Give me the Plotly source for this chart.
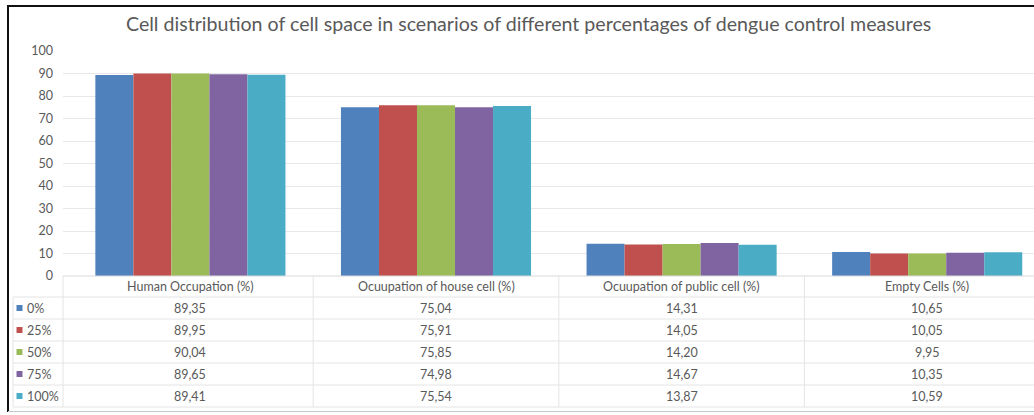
import plotly.graph_objects as go

# Chart data
categories = ["Human Occupation (%)", "Ocuupation of house cell (%)",
              "Ocuupation of public cell (%)", "Empty Cells (%)"]
scenarios = ["0%", "25%", "50%", "75%", "100%"]
values = {
    "0%":   [89.35, 75.04, 14.31, 10.65],
    "25%":  [89.95, 75.91, 14.05, 10.05],
    "50%":  [90.04, 75.85, 14.20, 9.95],
    "75%":  [89.65, 74.98, 14.67, 10.35],
    "100%": [89.41, 75.54, 13.87, 10.59],
}
colors = ["#4F81BD", "#C0504D", "#9BBB59", "#8064A2", "#4BACC6"]
title = "Cell distribution of cell space in scenarios of different percentages of dengue control measures"

W, H = 1034, 415
ML, MR, MT, MB = 63, 0, 51, 139
PW, PH = W - ML - MR, H - MT - MB
TEXT = "#595959"
LINE = "#E4E4E4"
FONT = "Lato"
TS = 12.5  # table / tick font size


def px_x(x):
    return (x - ML) / PW


def px_y(y):
    return (H - MB - y) / PH


fig = go.Figure()
for name, col in zip(scenarios, colors):
    fig.add_trace(go.Bar(
        x=list(range(len(categories))), y=values[name], name=name,
        marker=dict(color=col, line=dict(width=0)),
    ))

# category axis: 245.6 px per category, clipped at the right edge
unit = 245.6
x0 = -0.5 - 4.6 / unit
x1 = x0 + PW / unit

shapes = []
annotations = []

# data table lines
row_h = 22
header_top = 276
header_bot = 297
rows_y = [header_bot + i * row_h for i in range(len(scenarios) + 1)]
shapes.append(dict(type="line", xref="paper", yref="paper", x0=0, x1=1,
                   y0=px_y(header_top), y1=px_y(header_top), line=dict(color="#D9D9D9", width=1)))
for y in rows_y:
    shapes.append(dict(type="line", xref="paper", yref="paper", x0=px_x(13), x1=1,
                       y0=px_y(y), y1=px_y(y), line=dict(color=LINE, width=1)))
shapes.append(dict(type="line", xref="paper", yref="paper", x0=px_x(13), x1=px_x(13),
                   y0=px_y(header_bot), y1=px_y(rows_y[-1]), line=dict(color=LINE, width=1)))
shapes.append(dict(type="line", xref="paper", yref="paper", x0=0, x1=0,
                   y0=px_y(header_top), y1=px_y(rows_y[-1]), line=dict(color=LINE, width=1)))
for k in range(len(categories) - 1):
    shapes.append(dict(type="line", xref="x", yref="paper", x0=k + 0.5, x1=k + 0.5,
                       y0=px_y(header_top), y1=px_y(rows_y[-1]), line=dict(color=LINE, width=1)))

# outer frame
shapes.append(dict(type="line", xref="paper", yref="paper", x0=px_x(8), x1=px_x(8),
                   y0=px_y(5), y1=px_y(412), line=dict(color="#111111", width=2)))
shapes.append(dict(type="line", xref="paper", yref="paper", x0=px_x(7), x1=1,
                   y0=px_y(6), y1=px_y(6), line=dict(color="#111111", width=2)))
shapes.append(dict(type="line", xref="paper", yref="paper", x0=px_x(8), x1=1,
                   y0=px_y(411.5), y1=px_y(411.5), line=dict(color="#C8C8C8", width=1)))

# header labels
for k, cat in enumerate(categories):
    annotations.append(dict(x=k, y=px_y((header_top + header_bot) / 2), xref="x", yref="paper",
                            text=cat, showarrow=False, yanchor="middle",
                            font=dict(size=TS, color=TEXT, family=FONT)))

# rows: legend key + values
for i, (name, col) in enumerate(zip(scenarios, colors)):
    yc = (rows_y[i] + rows_y[i + 1]) / 2
    shapes.append(dict(type="rect", xref="paper", yref="paper",
                       x0=px_x(16.5), x1=px_x(22.5), y0=px_y(yc - 3), y1=px_y(yc + 3),
                       fillcolor=col, line=dict(width=0)))
    annotations.append(dict(x=px_x(24.5), y=px_y(yc), xref="paper", yref="paper",
                            text=name, showarrow=False, xanchor="left", yanchor="middle",
                            font=dict(size=TS, color=TEXT, family=FONT)))
    for k, v in enumerate(values[name]):
        annotations.append(dict(x=k, y=px_y(yc), xref="x", yref="paper",
                                text=f"{v:.2f}".replace(".", ","), showarrow=False,
                                yanchor="middle",
                                font=dict(size=TS, color=TEXT, family=FONT)))

# title
annotations.append(dict(x=px_x(528), y=px_y(23), xref="paper", yref="paper",
                        text=title, showarrow=False, xanchor="center", yanchor="middle",
                        font=dict(size=19.6, color=TEXT, family=FONT)))

fig.update_layout(
    width=W, height=H,
    margin=dict(l=ML, r=MR, t=MT, b=MB, pad=0),
    paper_bgcolor="white", plot_bgcolor="white",
    barmode="group", bargap=0.226, bargroupgap=0,
    showlegend=False,
    font=dict(family=FONT, color=TEXT),
    xaxis=dict(range=[x0, x1], showticklabels=False, showgrid=False,
               zeroline=False, showline=False, ticks=""),
    yaxis=dict(range=[0, 100], dtick=10, showgrid=True, gridcolor="#E8E8E8",
               zeroline=False, showline=False, ticks="", ticklabelstandoff=9,
               tickfont=dict(size=TS, color=TEXT, family=FONT)),
    shapes=shapes, annotations=annotations,
)

fig.write_html("out.html")
